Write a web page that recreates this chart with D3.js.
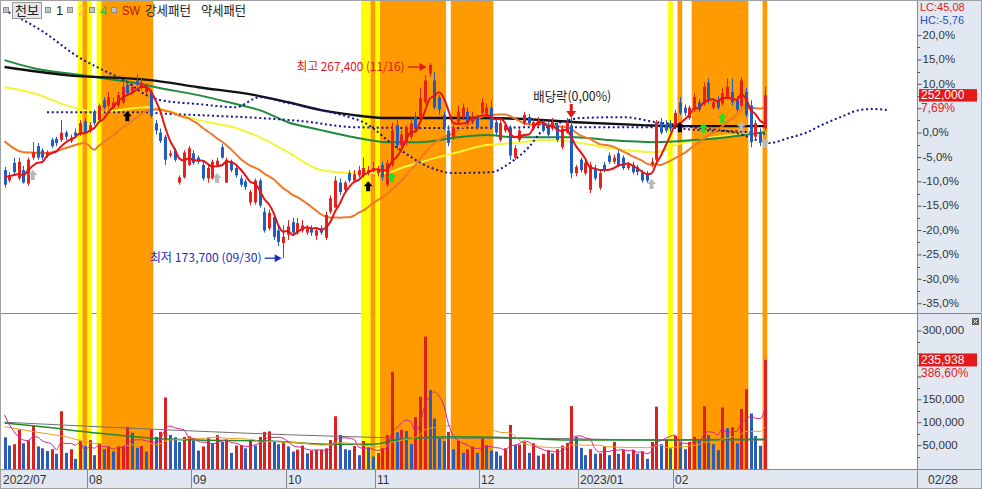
<!DOCTYPE html>
<html><head><meta charset="utf-8">
<script src="https://cdn.jsdelivr.net/npm/d3@7"></script>
<style>
html,body{margin:0;padding:0;background:#fff;overflow:hidden}
svg{display:block;font-family:"Liberation Sans",Arial,sans-serif}
.kr{font-family:"Noto Sans CJK KR","Liberation Sans",sans-serif}
</style></head><body>
<svg id="c" width="982" height="489"></svg>
<script>
// ---------- trading days (day numbers per month) ----------
const d2207=[6,7,8,11,12,13,14,15,18,19,20,21,22,25,26,27,28,29];
const d2208=[1,2,3,4,5,8,9,10,11,12,16,17,18,19,22,23,24,25,26,29,30,31];
const d2209=[1,2,5,6,7,8,13,14,15,16,19,20,21,22,23,26,27,28,29,30];
const d2210=[4,5,6,7,11,12,13,14,17,18,19,20,21,24,25,26,27,28,31];
const d2211=[1,2,3,4,7,8,9,10,11,14,15,16,17,18,21,22,23,24,25,28,29,30];
const d2212=[1,2,5,6,7,8,9,12,13,14,15,16,19,20,21,22,23,26,27,28,29];
const d2301=[2,3,4,5,6,9,10,11,12,13,16,17,18,19,20,25,26,27,30,31];
const d2302=[1,2,3,6,7,8,9,10,13,14,15,16,17,20,21,22,23,24,27,28];
const monthLabels=["2022/07","08","09","10","11","12","2023/01","02"];
const monthDays=[d2207,d2208,d2209,d2210,d2211,d2212,d2301,d2302];

// ---------- OHLC (thousand won) ----------
const open=[216.0,211.0,219.5,212.0,216.0,209.5,222.0,227.5,225.5,223.0,
230.5,231.0,230.5,234.0,230.0,234.0,233.0,239.5,235.0,244.0,
240.0,249.5,247.0,246.0,247.0,248.5,257.0,253.5,259.0,255.5,
253.5,253.5,238.5,234.0,232.0,223.0,225.5,210.0,212.5,218.5,
224.0,222.0,218.5,212.0,212.0,218.5,227.0,210.0,220.0,217.0,
212.0,210.5,200.5,200.5,211.0,196.0,188.0,193.5,187.0,181.0,
185.0,191.0,186.0,187.0,186.0,188.0,184.5,188.0,183.5,196.0,
198.0,210.0,206.5,214.5,211.0,213.5,213.5,215.0,216.0,214.5,
218.5,209.0,218.5,237.5,228.0,229.5,232.0,241.5,241.0,248.5,
262.5,259.0,251.0,242.5,235.0,232.0,239.0,241.0,244.0,239.0,
241.0,243.5,242.5,246.0,239.0,230.5,235.0,236.5,222.0,230.5,
238.5,241.5,236.0,237.5,238.5,237.5,236.0,237.5,227.0,234.0,
237.5,214.5,221.0,214.5,206.5,217.0,207.5,218.5,223.0,220.0,
224.0,222.0,217.0,218.5,217.5,215.0,214.5,218.5,221.0,239.0,
238.0,238.5,237.5,248.5,246.0,241.0,245.0,248.5,248.0,258.0,
246.0,249.5,248.0,251.0,253.5,249.5,247.0,253.5,247.0,232.0,
234.0,236.0];
const high=[217.5,215.0,222.0,222.0,218.0,222.0,229.5,229.0,226.5,225.5,
231.5,232.0,240.0,235.0,233.0,236.0,240.0,241.0,239.0,245.0,
248.0,251.0,253.5,250.5,253.5,258.0,259.0,257.5,262.0,260.5,
257.5,254.5,240.0,236.0,233.0,225.5,226.5,213.5,225.5,227.5,
225.5,223.0,220.0,218.5,221.0,222.0,228.5,222.0,221.0,218.5,
213.5,211.5,206.5,212.0,212.0,198.0,197.0,195.0,189.0,189.5,
192.0,193.0,193.0,192.0,189.5,189.5,188.0,189.5,196.0,204.0,
213.0,212.0,211.0,216.0,216.0,218.0,222.0,218.0,220.0,218.0,
220.0,221.0,239.0,240.0,235.0,237.5,241.0,244.0,255.5,261.5,
267.4,263.0,252.0,244.0,237.5,237.5,247.0,248.0,246.0,244.0,
242.5,250.5,248.0,249.5,241.0,240.0,239.0,237.5,228.0,236.0,
244.0,243.0,241.0,241.5,240.0,239.0,241.0,239.0,237.5,241.0,
241.0,218.5,222.0,221.0,220.0,218.5,216.0,220.0,224.5,223.5,
225.5,223.0,220.0,220.0,218.5,216.0,215.5,222.0,240.0,241.0,
240.0,240.0,245.0,251.0,247.5,247.0,253.0,250.0,258.0,260.0,
250.5,251.5,255.5,260.0,260.0,251.5,260.5,255.5,249.5,240.0,
236.0,256.0];
const low=[207.5,210.0,213.5,211.0,209.5,208.5,221.0,221.0,221.0,222.0,
226.5,227.5,229.5,230.5,229.0,231.5,232.5,233.5,234.0,237.5,
239.0,245.0,246.0,245.5,246.0,247.5,252.0,252.5,256.0,254.5,
252.5,241.0,233.0,229.0,218.5,222.0,220.0,209.0,212.0,218.0,
218.5,219.0,211.0,210.0,211.5,217.5,221.5,210.0,215.0,212.5,
208.0,206.5,199.0,199.5,198.0,186.0,187.0,182.5,179.5,173.7,
182.5,184.5,185.0,186.0,185.0,184.5,182.5,185.0,182.5,195.0,
198.0,204.0,205.0,210.0,210.0,212.5,212.5,213.5,215.0,213.0,
211.0,208.0,217.5,225.5,225.5,228.0,230.5,235.0,240.0,247.5,
261.0,245.0,242.5,235.0,227.5,230.5,238.0,240.0,237.5,238.0,
235.5,242.5,241.5,235.5,232.5,229.5,234.0,221.0,221.0,229.5,
237.5,237.5,235.0,236.5,234.0,232.0,235.0,229.5,226.0,233.5,
212.0,213.0,215.0,213.5,205.0,211.0,206.5,215.0,219.0,219.0,
217.5,216.0,216.0,214.0,213.5,210.0,210.0,217.5,220.0,233.0,
234.0,234.5,236.5,242.5,242.0,240.0,244.0,244.0,247.0,248.0,
245.0,245.0,247.0,250.0,247.0,244.0,246.0,241.5,227.0,231.0,
227.5,235.0];
const close=[209.0,213.5,215.0,220.0,210.0,221.0,224.5,222.0,222.0,224.5,
227.5,229.0,234.0,232.0,231.5,232.5,238.5,234.0,237.5,238.5,
247.0,246.0,251.0,248.5,252.0,256.0,253.0,256.0,257.0,258.0,
255.5,242.0,235.0,230.0,221.0,224.0,221.0,212.5,224.5,226.5,
219.5,220.0,212.0,217.0,220.0,220.5,222.0,221.0,216.0,213.5,
209.0,208.0,205.5,211.0,199.0,187.0,195.5,184.0,181.5,184.0,
189.0,186.0,190.5,189.5,188.0,186.0,187.0,186.0,194.5,202.5,
211.0,205.5,210.0,211.0,214.0,216.0,217.0,216.0,217.0,216.0,
212.5,219.5,235.0,228.0,233.0,236.5,238.5,236.5,250.5,259.0,
266.5,246.0,245.0,236.5,229.0,236.5,244.0,246.0,238.5,241.5,
236.5,248.5,246.0,236.5,234.0,238.5,237.5,223.0,226.5,235.0,
242.5,238.5,239.0,240.0,235.0,233.0,239.0,230.5,236.0,239.0,
214.5,217.5,216.0,219.5,218.5,212.0,214.5,216.0,220.0,222.0,
218.5,217.0,218.5,215.0,215.0,211.0,211.0,220.0,239.0,234.0,
235.0,236.0,243.5,243.5,243.5,246.0,251.0,245.0,256.0,249.5,
248.5,246.0,253.0,256.0,248.5,245.0,259.0,242.5,229.5,238.5,
229.0,252.0];
// ---------- volume (thousand shares) ----------
const volume=[67,49,52,84,54,60,92,47,43,37,41,31,124,33,41,20,59,48,61,28,
54,41,47,36,47,50,90,77,44,48,36,84,68,79,154,72,67,57,68,69,
60,38,47,65,54,72,57,61,33,49,50,43,61,49,68,79,80,57,52,55,
47,36,40,49,32,38,39,40,43,61,113,72,41,39,48,28,59,45,25,33,
43,72,210,78,83,81,52,111,156,287,170,108,65,59,79,41,59,33,41,47,
33,65,50,38,36,27,43,94,50,51,57,33,54,27,31,39,32,41,49,55,
135,68,44,28,41,31,32,47,28,57,31,39,31,39,31,36,20,57,134,52,
61,43,70,54,41,57,68,63,135,72,52,39,132,87,89,54,129,172,119,70,
48.487,235.938];

// ---------- moving averages: [index, thousand won] ----------
const maBlack=[[0,265.5],[13,261.6],[31,259.2],[41,255.8],[53,252.0],[60,248.6],[67,244.8],[74,242.4],[81,241.0],[102,241.0],[110,240.5],[121,239.0],[135,237.6],[142,237.1],[161,237.1]];
const maGreen=[[0,268.8],[6,265.0],[16,261.6],[29,257.3],[32,255.8],[41,252.0],[49,247.7],[54,244.8],[60,239.0],[67,235.2],[74,231.8],[81,229.4],[88,229.4],[96,231.8],[102,232.8],[108,231.8],[121,231.8],[128,230.4],[138,229.4],[146,230.4],[153,231.8],[161,234.2]];
const maYellow=[[0,255.8],[6,253.0],[13,247.2],[20,243.8],[30,246.2],[32,245.8],[41,240.0],[49,236.2],[54,231.8],[60,224.6],[67,216.0],[73,214.6],[81,214.6],[84,217.0],[88,219.8],[96,224.6],[102,228.0],[108,229.0],[114,230.4],[121,229.4],[128,226.6],[138,224.6],[142,228.0],[149,231.4],[161,233.8]];
const ma20Head=[[0,229.9],[4,224.6],[9,224.2],[13,226.6],[17,229.0]];
const ma5Head=[212.6,213.1,213.6,214.1];
const span1=[[0,292.8],[8,282.7],[16,269.8],[20,265.0],[26,258.2],[30,252.0],[33,249.6],[41,247.7],[49,246.2],[54,251.0],[60,248.2],[67,244.8],[73,241.4],[76,239.0],[83,227.0],[90,217.4],[95,214.6],[103,215.0],[107,219.4],[111,227.0],[114,235.2],[118,239.0],[122,241.0],[131,241.4],[138,239.0],[143,237.6],[147,236.2],[155,233.8],[160,229.9],[162,229.0],[166,231.4],[170,234.2],[173,237.6],[177,241.4],[181,244.8],[184,245.3],[187,244.8]];
const span2=[[9,243.8],[31,243.8],[32,243.4],[41,242.4],[54,241.0],[63,239.5],[74,236.6],[90,236.2],[118,236.6],[139,236.6],[147,235.2],[158,234.2],[161,233.3]];
// volume MAs (thousand shares)
const vMa5Head=[116,95,80,68];
const vMa20Head=[[0,90],[7,78],[13,68]];
const vMaGreen=[[0,98],[6,92],[20,76],[31,65],[41,61],[56,59],[68,52],[78,52],[83,61],[94,68],[110,65],[119,61],[139,61],[161,63]];
const vMaGray=[[0,100],[20,90],[35,83],[68,70],[90,65],[111,65],[139,61],[161,61]];

// ---------- signal bands & markers ----------
const yellowBands=[[16,16],[18,18],[20,20],[76,77],[79,79],[141,141]];
const orangeBands=[[17,17],[21,31],[78,78],[80,93],[95,103],[143,143],[146,157],[161,161]];
const grayMarks=[[6,213.6],[45,212.2],[137,209.3],[156,237.1],[161,229.0]];
const blackMarks=[[26,241.9],[77,208.3],[143,236.6]];
const greenMarks=[[82,212.6],[148,236.2],[152,241.0]];
const exDivIndex=120;
const priceTicks=[20,15,10,5,0,-5,-10,-15,-20,-25,-30,-35];
const volTicks=[300000,250000,200000,150000,100000,50000];
const lastPct=7.69;

// ---------- derived ----------
const N=close.length;
const K=v=>v*1000;
const lastClose=K(close[N-1]);
const base=lastClose/(1+lastPct/100);
const x=d3.scaleBand().domain(d3.range(194)).range([2.14,2.14+194*4.723]).padding(0);
const cx=i=>x(i)+x.bandwidth()/2;
const yPct=d3.scaleLinear().domain([-35,20]).range([303.2,35.1]);
const yP=p=>yPct((p/base-1)*100);
const yV=d3.scaleLinear().domain([0,300000]).range([468,330.6]);

function rollMean(arr,n,i){return d3.mean(arr.slice(i-n+1,i+1));}
const ma5=ma5Head.map((v,i)=>[i,v]).concat(d3.range(4,N).map(i=>[i,rollMean(close,5,i)]));
const ma20=ma20Head.concat(d3.range(19,N).map(i=>[i,rollMean(close,20,i)]));
const vMa5=vMa5Head.map((v,i)=>[i,v]).concat(d3.range(4,N).map(i=>[i,rollMean(volume,5,i)]));
const vMa20=vMa20Head.concat(d3.range(19,N).map(i=>[i,rollMean(volume,20,i)]));

const svg=d3.select("#c");
svg.append("rect").attr("width",982).attr("height",489).attr("fill","#fff");
const defs=svg.append("defs");
defs.append("clipPath").attr("id","cp").append("rect").attr("x",0).attr("y",1).attr("width",917).attr("height",312);
defs.append("clipPath").attr("id","cv").append("rect").attr("x",0).attr("y",314).attr("width",917).attr("height",155);
defs.append("clipPath").attr("id","ca").append("rect").attr("x",0).attr("y",1).attr("width",917).attr("height",468);

// panel separator (under bands)
svg.append("line").attr("x1",0).attr("x2",982).attr("y1",313.5).attr("y2",313.5).attr("stroke","#8a8a8a");

// bands
const gB=svg.append("g").attr("clip-path","url(#ca)");
function drawBands(ranges,color){
  ranges.forEach(([a,b])=>{
    gB.append("rect").attr("x",x(a)).attr("y",1).attr("width",x(b)-x(a)+x.step()).attr("height",468).attr("fill",color);
  });
}
drawBands(yellowBands,"#ffff00");
drawBands(orangeBands,"#ff9a00");

// ---------- price panel ----------
const gP=svg.append("g").attr("clip-path","url(#cp)");
const lineP=d3.line().x(d=>cx(d[0])).y(d=>yP(K(d[1]))).curve(d3.curveMonotoneX);
gP.append("path").attr("d",lineP(maYellow)).attr("fill","none").attr("stroke","#f4f438").attr("stroke-width",2);
gP.append("path").attr("d",lineP(maGreen)).attr("fill","none").attr("stroke","#1f8a3c").attr("stroke-width",2);
gP.append("path").attr("d",lineP(maBlack)).attr("fill","none").attr("stroke","#111").attr("stroke-width",2.4);
[span1,span2].forEach(s=>{
  gP.append("path").attr("d",lineP(s)).attr("fill","none").attr("stroke","#16168e").attr("stroke-width",2).attr("stroke-dasharray","2,2.72");
});
gP.append("path").attr("d",lineP(ma20)).attr("fill","none").attr("stroke","#f07828").attr("stroke-width",2);

const UP="#e8201c",DN="#1f5cc4";
const gC=gP.append("g");
d3.range(N).forEach(i=>{
  const o=K(open[i]),c=K(close[i]),h=K(high[i]),l=K(low[i]);
  const col=c>=o?UP:DN;
  const xm=Math.round(cx(i));
  gC.append("line").attr("x1",xm+0.5).attr("x2",xm+0.5).attr("y1",yP(h)).attr("y2",yP(l)).attr("stroke",col).attr("stroke-width",1);
  const y0=Math.min(yP(o),yP(c)),hh=Math.max(1.2,Math.abs(yP(o)-yP(c)));
  gC.append("rect").attr("x",xm-1).attr("y",y0).attr("width",3).attr("height",hh).attr("fill",col);
});
gP.append("path").attr("d",lineP(ma5)).attr("fill","none").attr("stroke","#e41414").attr("stroke-width",2);

// markers
function upArrow(i,p,color){
  const X=cx(i),Y=yP(K(p));
  gP.append("path").attr("d",`M${X},${Y-5}L${X+4.5},${Y}L${X+2},${Y}L${X+2},${Y+5}L${X-2},${Y+5}L${X-2},${Y}L${X-4.5},${Y}Z`).attr("fill",color);
}
grayMarks.forEach(d=>upArrow(d[0],d[1],"#b8b8b8"));
blackMarks.forEach(d=>upArrow(d[0],d[1],"#000"));
greenMarks.forEach(d=>upArrow(d[0],d[1],"#20e020"));

// high / low annotations
const iHi=d3.maxIndex(high),iLo=d3.minIndex(low);
function fmtDate(i){let k=i;for(let m=0;m<monthDays.length;m++){if(k<monthDays[m].length){const mm=(m+7-1)%12+1;return String(mm).padStart(2,"0")+"/"+String(monthDays[m][k]).padStart(2,"0");}k-=monthDays[m].length;}}
const fmtN=d3.format(",");
const yHi=yP(K(high[iHi]))+4, xHi=cx(iHi)-3;
svg.append("text").attr("class","kr").attr("x",xHi-22).attr("y",yHi).attr("dy","0.35em").attr("text-anchor","end")
  .attr("font-size",12).attr("fill","#e01818").attr("textLength",108).attr("lengthAdjust","spacingAndGlyphs")
  .text(`최고 ${fmtN(Math.round(K(high[iHi])))} (${fmtDate(iHi)})`);
svg.append("line").attr("x1",xHi-19).attr("x2",xHi-5).attr("y1",yHi).attr("y2",yHi).attr("stroke","#e01818").attr("stroke-width",1.3);
svg.append("path").attr("d",`M${xHi},${yHi}L${xHi-7},${yHi-4}L${xHi-7},${yHi+4}Z`).attr("fill","#e01818");
const yLo=yP(K(low[iLo])), xLo=cx(iLo)-1.5;
svg.append("text").attr("class","kr").attr("x",xLo-20).attr("y",yLo).attr("dy","0.35em").attr("text-anchor","end")
  .attr("font-size",12).attr("fill","#1a30c0").attr("textLength",112).attr("lengthAdjust","spacingAndGlyphs")
  .text(`최저 ${fmtN(Math.round(K(low[iLo])))} (${fmtDate(iLo)})`);
svg.append("line").attr("x1",xLo-17).attr("x2",xLo-5).attr("y1",yLo).attr("y2",yLo).attr("stroke","#1a30c0").attr("stroke-width",1.3);
svg.append("path").attr("d",`M${xLo},${yLo}L${xLo-7},${yLo-4}L${xLo-7},${yLo+4}Z`).attr("fill","#1a30c0");
// ex-dividend
const xd=cx(exDivIndex), yd=yP(K(high[exDivIndex]));
svg.append("path").attr("d",`M${xd},${yd}L${xd+5},${yd-7}L${xd+1.5},${yd-7}L${xd+1.5},${yd-14}L${xd-1.5},${yd-14}L${xd-1.5},${yd-7}L${xd-5},${yd-7}Z`).attr("fill","#e01818");
svg.append("text").attr("class","kr").attr("x",xd+1).attr("y",yd-22).attr("dy","0.35em").attr("text-anchor","middle")
  .attr("font-size",13).attr("fill","#222").attr("textLength",78).attr("lengthAdjust","spacingAndGlyphs").text("배당락(0,00%)");

// ---------- volume panel ----------
const gV=svg.append("g").attr("clip-path","url(#cv)");
d3.range(N).forEach(i=>{
  const v=volume[i]*1000, pv=i>0?volume[i-1]*1000:Infinity;
  const xm=Math.round(cx(i));
  gV.append("rect").attr("x",xm-1).attr("y",yV(v)).attr("width",3).attr("height",468-yV(v)+1).attr("fill",v>pv?"#dc2020":"#2a5cbc");
});
const lineV=d3.line().x(d=>cx(d[0])).y(d=>yV(d[1]*1000)).curve(d3.curveMonotoneX);
gV.append("path").attr("d",lineV(vMaGray)).attr("fill","none").attr("stroke","#707070").attr("stroke-width",1);
gV.append("path").attr("d",lineV(vMaGreen)).attr("fill","none").attr("stroke","#1f8a2a").attr("stroke-width",1.5);
gV.append("path").attr("d",lineV(vMa20)).attr("fill","none").attr("stroke","#e8a020").attr("stroke-width",1);
gV.append("path").attr("d",lineV(vMa5)).attr("fill","none").attr("stroke","#d0209a").attr("stroke-width",1);

// ---------- right axis panel ----------
svg.append("rect").attr("x",917).attr("y",0).attr("width",65).attr("height",313).attr("fill","#e2e8f1");
svg.append("rect").attr("x",917).attr("y",314).attr("width",65).attr("height",155).attr("fill","#e2e8f1");
svg.append("rect").attr("x",0).attr("y",469).attr("width",982).attr("height",20).attr("fill","#e2e8f1");
svg.append("line").attr("x1",917).attr("x2",982).attr("y1",313.5).attr("y2",313.5).attr("stroke","#8a8a8a");
svg.append("line").attr("x1",917.5).attr("x2",917.5).attr("y1",0).attr("y2",489).attr("stroke","#8a8a8a");
svg.append("line").attr("x1",0).attr("x2",982).attr("y1",469.5).attr("y2",469.5).attr("stroke","#8a8a8a");
svg.append("rect").attr("x",0.5).attr("y",0.5).attr("width",981).attr("height",488).attr("fill","none").attr("stroke","#a0a0a0");

const yl=yP(lastClose);
const lv=Math.round(volume[N-1]*1000), pvv=volume[N-2]*1000, yvl=yV(lv);

const fmtPct=v=>(v<0?"-":"")+Math.abs(v).toFixed(1).replace(".",",")+"%";
const axP=svg.append("g").attr("transform","translate(917.5,0)")
  .call(d3.axisRight(yPct).tickValues(priceTicks).tickSize(4).tickPadding(1).tickFormat(fmtPct));
const axV=svg.append("g").attr("transform","translate(917.5,0)")
  .call(d3.axisRight(yV).tickValues(volTicks).tickSize(4).tickPadding(1).tickFormat(d3.format(",")));
[axP,axV].forEach(a=>{a.select(".domain").remove();a.selectAll("line").attr("stroke","#555");
  a.selectAll("text").attr("font-size",11.5).attr("dy","0.28em").attr("fill","#333").attr("font-family","Liberation Sans,Arial,sans-serif");});
// labels hidden behind the last-value boxes
axP.selectAll(".tick").filter(d=>Math.abs(yPct(d)-yl)<9||Math.abs(yPct(d)-(yl+13))<10).select("text").remove();
axV.selectAll(".tick").filter(d=>Math.abs(yV(d)-yvl)<10||Math.abs(yV(d)-(yvl+13))<10).select("text").remove();
// minor ticks
priceTicks.slice(0,-1).forEach(t=>{const y=Math.round(yPct(t-2.5))+0.5;svg.append("line").attr("x1",917.5).attr("x2",920).attr("y1",y).attr("y2",y).attr("stroke","#555");});
volTicks.forEach(t=>{const y=Math.round(yV(t-25000))+0.5;svg.append("line").attr("x1",917.5).attr("x2",920).attr("y1",y).attr("y2",y).attr("stroke","#555");});

// LC / HC
const lc=(lastClose/K(d3.min(low))-1)*100, hc=(lastClose/K(d3.max(high))-1)*100;
const fmt2=v=>(v<0?"-":"")+Math.abs(v).toFixed(2).replace(".",",");
svg.append("text").attr("x",920).attr("y",7.5).attr("dy","0.35em").attr("font-size",11).attr("fill","#e02020").text("LC:"+fmt2(lc));
svg.append("text").attr("x",920).attr("y",20.5).attr("dy","0.35em").attr("font-size",11).attr("fill","#2050c0").text("HC:"+fmt2(hc));
// last price box
svg.append("rect").attr("x",919).attr("y",yl-6).attr("width",58).attr("height",12.5).attr("fill","#e41a1a");
svg.append("text").attr("x",921).attr("y",yl).attr("dy","0.36em").attr("font-size",12).attr("fill","#fff").text(fmtN(lastClose));
svg.append("text").attr("x",921).attr("y",yl+13).attr("dy","0.36em").attr("font-size",12).attr("fill","#e02020").text(lastPct.toFixed(2).replace(".",",")+"%");
// last volume box
svg.append("rect").attr("x",919).attr("y",yvl-6.5).attr("width",58).attr("height",13).attr("fill","#e41a1a");
svg.append("text").attr("x",921).attr("y",yvl).attr("dy","0.36em").attr("font-size",12).attr("fill","#fff").text(fmtN(lv));
svg.append("text").attr("x",921).attr("y",yvl+13).attr("dy","0.36em").attr("font-size",12).attr("fill","#e02020").text(((lv/pvv-1)*100).toFixed(2).replace(".",",")+"%");
// close icon
svg.append("rect").attr("x",972).attr("y",318).attr("width",7).attr("height",7).attr("fill","#5a5a5a");
svg.append("path").attr("d","M973.5,319.5L977.5,323.5M977.5,319.5L973.5,323.5").attr("stroke","#fff").attr("stroke-width",1);

// ---------- x axis ----------
let start=0;
monthDays.forEach((m,k)=>{
  const xs=Math.round(x(start))+0.5;
  if(k>0) svg.append("line").attr("x1",xs).attr("x2",xs).attr("y1",470).attr("y2",489).attr("stroke","#8a8a8a");
  svg.append("text").attr("x",(k>0?xs+1.5:3)).attr("y",480).attr("dy","0.36em").attr("font-size",12).attr("fill","#333").text(monthLabels[k]);
  start+=m.length;
});
svg.append("text").attr("x",928).attr("y",480).attr("dy","0.36em").attr("font-size",12).attr("fill","#333").text(fmtDate(N-1));

// ---------- legend ----------
function sq(xx){svg.append("rect").attr("x",xx+0.5).attr("y",7.5).attr("width",5).attr("height",5).attr("fill","#c4c4c4").attr("stroke","#8a8a8a");}
sq(3);
svg.append("rect").attr("x",12.5).attr("y",2.5).attr("width",29).attr("height",16).attr("fill","#e6e6e6").attr("stroke","#9a9a9a");
svg.append("text").attr("class","kr").attr("x",15).attr("y",10.5).attr("dy","0.36em").attr("font-size",13).attr("fill","#222").text("천보");
sq(45);
svg.append("text").attr("x",56).attr("y",10.5).attr("dy","0.36em").attr("font-size",13).attr("fill","#222").text("1");
sq(67);
svg.append("text").attr("x",78).attr("y",10.5).attr("dy","0.36em").attr("font-size",13).attr("fill","#f0c850").text("2");
sq(89);
svg.append("text").attr("x",100).attr("y",10.5).attr("dy","0.36em").attr("font-size",13).attr("fill","#30c030").text("4");
sq(111);
svg.append("text").attr("x",122).attr("y",10.5).attr("dy","0.36em").attr("font-size",13).attr("fill","#b01800").attr("textLength",18).attr("lengthAdjust","spacingAndGlyphs").text("SW");
svg.append("text").attr("class","kr").attr("x",145).attr("y",10.5).attr("dy","0.36em").attr("font-size",13).attr("fill","#222").attr("textLength",46).attr("lengthAdjust","spacingAndGlyphs").text("강세패턴");
svg.append("text").attr("class","kr").attr("x",201).attr("y",10.5).attr("dy","0.36em").attr("font-size",13).attr("fill","#222").attr("textLength",45).attr("lengthAdjust","spacingAndGlyphs").text("약세패턴");
</script></body></html>
